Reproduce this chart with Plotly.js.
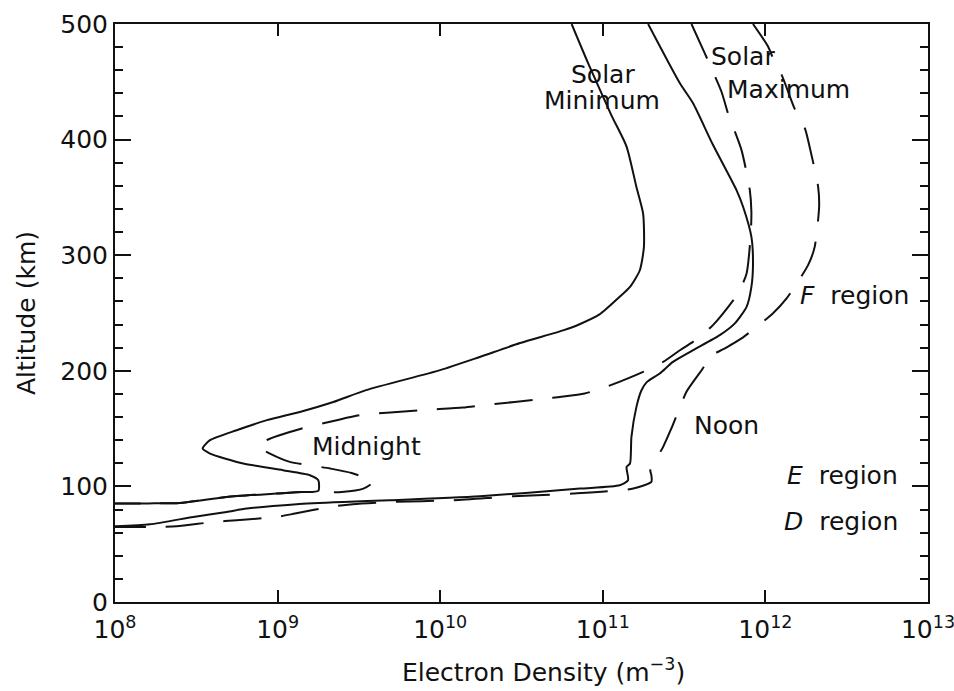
<!DOCTYPE html>
<html>
<head>
<meta charset="utf-8">
<script src="https://cdn.plot.ly/plotly-3.0.1.min.js"></script>
<style>
  html, body { margin: 0; padding: 0; background: #fff; }
  #chart { width: 954px; height: 691px; }
</style>
</head>
<body>
<div id="chart"></div>
<script>
// Electron density profiles (m^-3) versus altitude (km)

// Solar minimum, midnight (solid)
const altMidnightMin = [500, 466, 421, 394, 359, 336, 307, 287, 272.6, 264, 249, 240.3, 235, 224, 212, 200.6, 183.3, 173, 164.4, 157.3, 148.6, 140, 132.8, 128.4, 119.8, 114, 109.7, 105.3, 96.1, 95.2, 93.8, 90.9, 85.7, 85.3, 85.2];
const neMidnightMin = [6.43e10, 8.13e10, 1.13e11, 1.40e11, 1.61e11, 1.77e11, 1.79e11, 1.69e11, 1.47e11, 1.27e11, 9.6e10, 7.2e10, 5.7e10, 3.1e10, 1.75e10, 1.0e10, 3.5e9, 2.2e9, 1.37e9, 8.6e8, 5.6e8, 3.84e8, 3.46e8, 3.84e8, 6.15e8, 1.08e9, 1.58e9, 1.78e9, 1.78e9, 1.41e9, 9.9e8, 4.86e8, 2.5e8, 1.6e8, 1e8];

// Solar maximum, midnight (dashed)
const altMidnightMax = [500, 474.6, 441.4, 422.7, 390.9, 356.3, 337.5, 318.8, 284.2, 266.9, 239.5, 227.1, 217.8, 207.7, 199.1, 186.1, 180.4, 177.4, 176, 170.2, 168.2, 165.9, 161.6, 157.3, 150.1, 140, 134.2, 128.4, 121.2, 115.5, 111.6, 103.9, 98.1, 95.2, 95.2, 93.8, 90.9, 85.7, 85.3, 85.2];
const neMidnightMax = [3.51e11, 4.24e11, 5.37e11, 5.89e11, 7.13e11, 8.02e11, 8.2e11, 8.13e11, 7.66e11, 6.79e11, 4.76e11, 3.77e11, 2.98e11, 2.35e11, 1.77e11, 1.05e11, 7.74e10, 5.45e10, 4.51e10, 1.84e10, 1.38e10, 7.5e9, 3.21e9, 2.31e9, 1.41e9, 8.57e8, 7.6e8, 8.97e8, 1.19e9, 2.1e9, 2.85e9, 3.87e9, 3.37e9, 2.48e9, 1.41e9, 9.9e8, 4.86e8, 2.5e8, 1.6e8, 1e8];

// Solar minimum, noon (solid)
const altNoonMin = [500, 448.7, 431.4, 395.7, 356.3, 341.9, 315.9, 292.9, 272.6, 255.3, 241, 230.8, 217.8, 207.7, 197.7, 190.4, 183.2, 168.8, 142.8, 119.8, 116.8, 105.3, 101, 98.1, 91.5, 88.0, 86.5, 84.6, 80.8, 77.9, 73.6, 67.2, 65.5];
const neNoonMin = [1.90e11, 2.98e11, 3.59e11, 4.75e11, 6.64e11, 7.29e11, 8.2e11, 8.39e11, 8.2e11, 7.66e11, 6.49e11, 5.24e11, 3.59e11, 2.70e11, 2.24e11, 1.87e11, 1.73e11, 1.61e11, 1.50e11, 1.47e11, 1.40e11, 1.43e11, 1.27e11, 7.23e10, 1.75e10, 4.9e9, 2.54e9, 1.31e9, 6.46e8, 4.86e8, 3.03e8, 1.64e8, 1e8];

// Solar maximum, noon (dashed)
const altNoonMax = [500, 480.3, 463, 455.8, 427, 409.7, 393.8, 359.2, 341.9, 307.2, 291.4, 262.6, 249.6, 228, 219.3, 210.7, 203.4, 196.2, 181.8, 150.1, 134.2, 114, 109.6, 103.9, 98.1, 93.8, 91.5, 88, 86.5, 84.6, 82.8, 76.5, 73.6, 70.7, 69.2, 65.5, 64.9, 64.9];
const neNoonMax = [8.39e11, 1.04e12, 1.17e12, 1.26e12, 1.51e12, 1.75e12, 1.87e12, 2.11e12, 2.14e12, 2.01e12, 1.83e12, 1.35e12, 1.11e12, 7.13e11, 5.62e11, 4.35e11, 4.18e11, 3.85e11, 3.27e11, 2.64e11, 2.35e11, 1.96e11, 1.99e11, 1.99e11, 1.54e11, 6.58e10, 2.81e10, 1.2e10, 4.91e9, 2.9e9, 2.2e9, 1.28e9, 9.86e8, 5.6e8, 4.02e8, 2.39e8, 1.71e8, 1e8];

// Decade ticks on the density axis
const densityTicks = [1e8, 1e9, 1e10, 1e11, 1e12, 1e13];
const densityTickText = ['10<sup>8</sup>', '10<sup>9</sup>', '10<sup>10</sup>', '10<sup>11</sup>', '10<sup>12</sup>', '10<sup>13</sup>'];

// Curve labels: [text, log10 density, altitude, x anchor]
const labels = [
  ['Solar', 11.002, 455.9, 'center'],
  ['Minimum', 10.992, 433.4, 'center'],
  ['Solar', 11.863, 471.7, 'center'],
  ['Maximum', 12.144, 443.7, 'center'],
  ['Midnight', 9.549, 134.8, 'center'],
  ['Noon', 11.761, 152.5, 'center'],
  ['<i>F</i>\u00a0\u00a0region', 12.898, 265.4, 'right'],
  ['<i>E</i>\u00a0\u00a0region', 12.826, 109.7, 'right'],
  ['<i>D</i>\u00a0\u00a0region', 12.826, 69.8, 'right']
];

const FONT = 'DejaVu Sans';
const INK = '#111111';

function profile(x, y, dash) {
  return {
    type: 'scatter', mode: 'lines', x: x, y: y,
    line: { color: INK, width: 2, dash: dash, shape: 'spline', smoothing: 0.6 },
    hoverinfo: 'skip', showlegend: false
  };
}

const data = [
  profile(neMidnightMin, altMidnightMin, 'solid'),
  profile(neNoonMin, altNoonMin, 'solid'),
  profile(neMidnightMax, altMidnightMax, '38px,20px'),
  profile(neNoonMax, altNoonMax, '38px,20px')
];

const curveNotes = labels.map(function (l) {
  return {
    text: l[0], x: l[1], y: l[2], xref: 'x', yref: 'y',
    xanchor: l[3], yanchor: 'middle', showarrow: false,
    font: { family: FONT, size: 25, color: INK }
  };
});

// Density-axis title, set a little right of the plot centre
const xTitle = {
  text: 'Electron Density (m<sup>\u22123</sup>)',
  xref: 'paper', yref: 'paper', x: 0.5275, y: -0.118,
  xanchor: 'center', yanchor: 'middle', showarrow: false,
  font: { family: FONT, size: 25, color: INK }
};

const layout = {
  width: 954, height: 691,
  margin: { l: 115, r: 26, t: 24, b: 89 },
  paper_bgcolor: '#fff', plot_bgcolor: '#fff',
  font: { family: FONT, size: 25, color: INK },
  xaxis: {
    type: 'log', range: [8, 13],
    tickmode: 'array', tickvals: densityTicks, ticktext: densityTickText,
    ticklabeloverflow: 'allow', ticklabelstandoff: 4,
    ticks: 'inside', ticklen: 12, tickwidth: 2, tickcolor: INK,
    showline: true, linewidth: 2, linecolor: INK, mirror: 'ticks',
    showgrid: false, zeroline: false,
    tickfont: { family: FONT, size: 25, color: INK }
  },
  yaxis: {
    range: [0, 500], dtick: 100,
    ticks: 'inside', ticklen: 16, tickwidth: 2, tickcolor: INK,
    minor: { dtick: 20, ticks: 'inside', ticklen: 8, tickwidth: 2, tickcolor: INK },
    showline: true, linewidth: 2, linecolor: INK, mirror: 'ticks',
    showgrid: false, zeroline: false,
    tickfont: { family: FONT, size: 25, color: INK },
    title: { text: 'Altitude (km)', font: { family: FONT, size: 25, color: INK }, standoff: 18 }
  },
  annotations: curveNotes.concat([xTitle]),
  showlegend: false
};

Plotly.newPlot('chart', data, layout, { staticPlot: true, displayModeBar: false });
</script>
</body>
</html>
